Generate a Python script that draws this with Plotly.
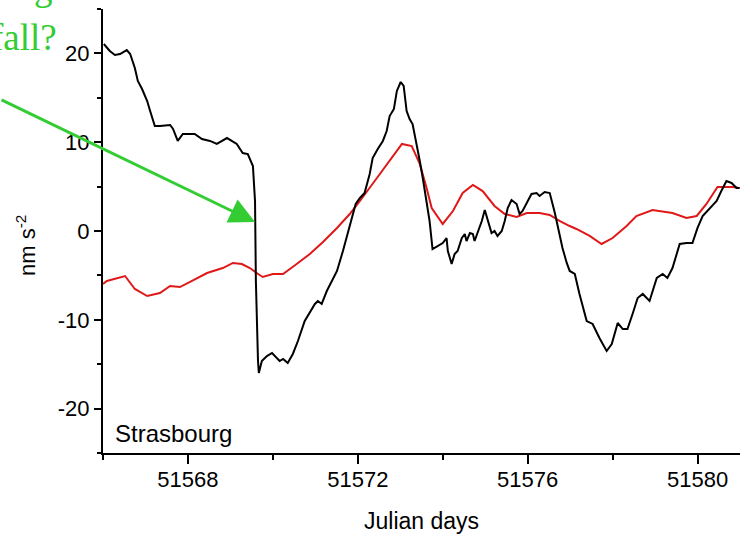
import plotly.graph_objects as go

# ---- data ----
black_x = [51566.02, 51566.16, 51566.28, 51566.40, 51566.56, 51566.64, 51566.75, 51566.82, 51566.92,
           51567.04, 51567.11, 51567.22, 51567.34, 51567.58, 51567.65, 51567.76, 51567.88, 51568.16,
           51568.33, 51568.52, 51568.68, 51568.92, 51569.15, 51569.29, 51569.41, 51569.46, 51569.53,
           51569.58, 51569.60, 51569.65, 51569.67, 51569.74, 51569.86, 51569.98, 51570.09, 51570.16,
           51570.24, 51570.35, 51570.47, 51570.59, 51570.75, 51570.87, 51570.99, 51571.06, 51571.15,
           51571.27, 51571.39, 51571.51, 51571.65, 51571.76, 51571.81, 51571.95, 51572.05, 51572.16,
           51572.28, 51572.35, 51572.47, 51572.59, 51572.68, 51572.75, 51572.85, 51572.92, 51573.01,
           51573.08, 51573.15, 51573.22, 51573.29, 51573.39, 51573.46, 51573.53, 51573.62, 51573.69,
           51573.76, 51573.88, 51574.00, 51574.09, 51574.12, 51574.21, 51574.28, 51574.35, 51574.45,
           51574.52, 51574.56, 51574.64, 51574.71, 51574.75, 51574.82, 51574.92, 51574.99, 51575.06,
           51575.15, 51575.22, 51575.29, 51575.39, 51575.46, 51575.53, 51575.62, 51575.74, 51575.81,
           51575.88, 51575.98, 51576.09, 51576.21, 51576.28, 51576.40, 51576.52, 51576.64, 51576.71,
           51576.82, 51576.92, 51576.99, 51577.11, 51577.22, 51577.39, 51577.53, 51577.69, 51577.86,
           51577.98, 51578.12, 51578.24, 51578.35, 51578.47, 51578.59, 51578.71, 51578.87, 51579.04,
           51579.18, 51579.29, 51579.41, 51579.58, 51579.74, 51579.88, 51580.00, 51580.12, 51580.28,
           51580.45, 51580.56, 51580.68, 51580.80, 51580.92, 51580.99]
black_y = [21.06, 20.27, 19.82, 19.93, 20.38, 19.93, 18.36, 16.89, 15.99,
           14.64, 13.51, 11.82, 11.82, 11.94, 11.49, 10.14, 10.92, 10.92,
           10.36, 10.14, 9.80, 10.47, 9.80, 8.78, 8.67, 8.11, 7.32,
           3.38, -5.63, -14.64, -15.99, -14.64, -14.08, -13.74, -14.30, -14.64,
           -14.41, -14.86, -13.85, -12.39, -10.14, -9.23, -8.22, -7.88, -8.22,
           -6.76, -5.63, -4.50, -2.25, -0.34, 0.34, 3.04, 3.72, 4.28,
           6.42, 8.22, 9.23, 10.14, 11.26, 12.95, 13.74, 15.77, 16.78,
           16.33, 13.51, 12.61, 12.05, 9.80, 7.88, 5.97, 3.38, 1.13,
           -2.03, -1.69, -1.35, -0.79, -2.25, -3.72, -2.59, -2.25, -0.79,
           -0.34, -1.13, -0.23, -0.34, -1.13, -0.23, 1.13, 2.36, 1.13,
           -0.23, 0.00, -0.56, 0.00, 1.13, 2.59, 3.49, 3.04, 1.91,
           2.25, 3.15, 4.17, 4.28, 3.94, 4.39, 4.28, 2.03, 0.56,
           -1.91, -3.60, -4.50, -4.84, -7.09, -10.14, -10.47, -12.05, -13.51,
           -12.73, -10.36, -11.04, -11.04, -9.35, -7.55, -7.09, -7.88, -5.29,
           -4.84, -5.29, -4.17, -1.46, -1.35, -1.35, 0.34, 1.69, 2.48,
           3.38, 4.50, 5.63, 5.41, 4.84, 4.84]

red_x = [51566.00, 51566.09, 51566.52, 51566.75, 51567.04, 51567.34, 51567.58, 51567.81, 51568.05,
         51568.45, 51568.82, 51569.06, 51569.27, 51569.46, 51569.62, 51569.76, 51570.00, 51570.24,
         51570.56, 51570.87, 51571.18, 51571.51, 51571.81, 51572.05, 51572.45, 51572.75, 51573.04,
         51573.27, 51573.46, 51573.62, 51573.74, 51574.00, 51574.24, 51574.47, 51574.71, 51574.94,
         51575.22, 51575.46, 51575.74, 51575.98, 51576.28, 51576.52, 51576.75, 51576.99, 51577.15,
         51577.46, 51577.74, 51578.00, 51578.33, 51578.56, 51578.94, 51579.41, 51579.74, 51579.98,
         51580.21, 51580.47, 51580.82, 51580.99]
red_y = [-5.97, -5.63, -5.07, -6.53, -7.32, -6.98, -6.19, -6.31, -5.74,
         -4.73, -4.17, -3.60, -3.72, -4.17, -4.73, -5.18, -4.84, -4.84,
         -3.72, -2.59, -1.24, 0.34, 1.91, 3.38, 5.97, 7.88, 9.80,
         9.57, 7.55, 4.84, 2.59, 0.79, 2.25, 4.28, 5.18, 4.50,
         2.82, 1.91, 1.58, 2.03, 2.03, 1.80, 1.13, 0.56, 0.23,
         -0.56, -1.46, -0.79, 0.56, 1.69, 2.36, 2.03, 1.46, 1.69,
         3.04, 4.95, 4.95, 4.84]

x_tick_vals = [51568, 51572, 51576, 51580]
x_tick_text = ["51568", "51572", "51576", "51580"]
x_minor_vals = [51566, 51570, 51574, 51578]
y_tick_vals = [-20, -10, 0, 10, 20]
y_tick_text = ["-20", "-10", "0", "10", "20"]
y_minor_vals = [-25, -15, -5, 5, 15, 25]

station_label = "Strasbourg"
x_title = "Julian days"
y_title = "nm s<sup>-2</sup>"
note_line1 = "during a"
note_line2 = "fall?"
arrow_tip = (51569.58, 1.0)

# ---- layout geometry (pixels) ----
W, H = 740, 536
ML, MR, MT, MB = 103, 0, 9, 83
PW, PH = W - ML - MR, H - MT - MB

def px_x(p):
    return (p - ML) / PW

def px_y(p):
    return (H - MB - p) / PH

SANS = "Liberation Sans, Arial, sans-serif"
SERIF = "Liberation Serif, Times New Roman, serif"
GREEN = "#33cc33"

fig = go.Figure()
fig.add_trace(go.Scatter(x=red_x, y=red_y, mode="lines",
                         line=dict(color="#e01818", width=2), showlegend=False))
fig.add_trace(go.Scatter(x=black_x, y=black_y, mode="lines",
                         line=dict(color="black", width=2), showlegend=False))

fig.update_layout(
    width=W, height=H,
    margin=dict(l=ML, r=MR, t=MT, b=MB, pad=0),
    paper_bgcolor="white", plot_bgcolor="white",
    showlegend=False,
    xaxis=dict(range=[51566, 51581], showgrid=False, zeroline=False,
               showline=True, linecolor="black", linewidth=2,
               ticks="outside", ticklen=9, tickwidth=1.5, tickcolor="black",
               tickvals=x_tick_vals, ticktext=x_tick_text, ticklabelstandoff=-3,
               tickfont=dict(family=SANS, size=22, color="black"),
               minor=dict(tickvals=x_minor_vals, ticks="outside",
                          ticklen=5, tickwidth=1.5, tickcolor="black")),
    yaxis=dict(range=[-25, 25], showgrid=False, zeroline=False,
               showline=True, linecolor="black", linewidth=2,
               ticks="outside", ticklen=7, tickwidth=1.5, tickcolor="black",
               tickvals=y_tick_vals, ticktext=y_tick_text,
               tickfont=dict(family=SANS, size=22, color="black"),
               minor=dict(tickvals=y_minor_vals, ticks="outside",
                          ticklen=4, tickwidth=1.5, tickcolor="black")),
)

fig.add_annotation(xref="paper", yref="paper", x=px_x(113), y=px_y(433),
                   xanchor="left", yanchor="middle", showarrow=False,
                   text=station_label, font=dict(family=SANS, size=24, color="black"))
fig.add_annotation(xref="paper", yref="paper", x=px_x(422), y=px_y(521),
                   xanchor="center", yanchor="middle", showarrow=False,
                   text=x_title, font=dict(family=SANS, size=23, color="black"))
fig.add_annotation(xref="paper", yref="paper", x=px_x(26), y=px_y(246),
                   xanchor="center", yanchor="middle", showarrow=False, textangle=-90,
                   text=y_title, font=dict(family=SANS, size=22, color="black"))
fig.add_annotation(xref="paper", yref="paper", x=px_x(59), y=px_y(37),
                   xanchor="right", yanchor="middle", showarrow=False,
                   text=note_line2, font=dict(family=SERIF, size=37, color=GREEN))
fig.add_annotation(xref="paper", yref="paper", x=px_x(80), y=px_y(-12),
                   xanchor="right", yanchor="middle", showarrow=False,
                   text=note_line1, font=dict(family=SERIF, size=37, color=GREEN))
fig.add_annotation(x=arrow_tip[0], y=arrow_tip[1], xref="x", yref="y",
                   ax=-255, ay=-123, text="", showarrow=True,
                   arrowhead=2, arrowsize=1.7, arrowwidth=3, arrowcolor=GREEN,
                   standoff=0)

fig.write_html("out.html")
